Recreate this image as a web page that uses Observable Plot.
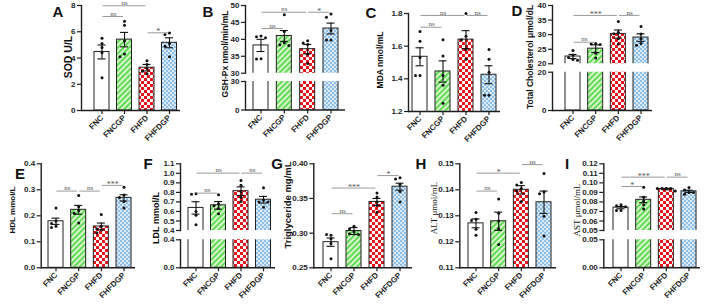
<!DOCTYPE html>
<html>
<head>
<meta charset="utf-8">
<script src="https://cdn.jsdelivr.net/npm/d3@7"></script>
<script src="https://cdn.jsdelivr.net/npm/@observablehq/plot@0.6"></script>
<style>
  body { margin: 0; background: #fff; }
  #fig { position: relative; width: 708px; height: 304px; overflow: hidden; background: #fff;
         font-family: "Liberation Sans", Arial, sans-serif; color: #111; }
  .letter { position: absolute; font-weight: bold; font-size: 15px; line-height: 1;
            transform: translate(-50%, -50%); }
  .ytitle { position: absolute; font-weight: bold; white-space: nowrap; line-height: 1;
            transform: translate(-50%, -50%) rotate(-90deg); }
  .ytitle.serif { font-family: "Liberation Serif", "Times New Roman", serif; font-weight: normal; }
</style>
</head>
<body>
<div id="fig">
  <svg width="0" height="0" style="position:absolute">
    <defs>
      <pattern id="hatch-green" width="4" height="4" patternUnits="userSpaceOnUse" patternTransform="rotate(45)">
        <rect width="4" height="4" fill="#d6f7c8"></rect>
        <rect width="2" height="4" fill="#63d85b"></rect>
      </pattern>
      <pattern id="check-red" width="6" height="6" patternUnits="userSpaceOnUse">
        <rect width="6" height="6" fill="#ffffff"></rect>
        <rect width="3" height="3" fill="#e8141c"></rect>
        <rect x="3" y="3" width="3" height="3" fill="#e8141c"></rect>
      </pattern>
      <pattern id="check-blue" width="4" height="4" patternUnits="userSpaceOnUse">
        <rect width="4" height="4" fill="#dbeaf8"></rect>
        <rect width="2" height="2" fill="#8fbfe8"></rect>
        <rect x="2" y="2" width="2" height="2" fill="#8fbfe8"></rect>
      </pattern>
    </defs>
  </svg>
</div>
<script>
// Groups shared by every panel
const groups = ["FNC", "FNCGP", "FHFD", "FHFDGP"];

// A: SOD (U/L)
const sodMean = [4.46, 5.40, 3.26, 5.16];
const sodSem = [0.53, 0.55, 0.25, 0.38];
const sodPoints = [[5.5, 5.1, 4.8, 4.4, 2.5], [6.8, 6.5, 5.3, 4.3, 4.1], [3.8, 3.5, 3.2, 3.0, 2.8], [5.9, 5.8, 5.1, 4.9, 4.1]];
const sodSig = [["FNC", "FNCGP", 7.16, "ns"], ["FNC", "FHFD", 7.98, "ns"], ["FHFD", "FHFDGP", 5.92, "*"]];
const sodTicks = [0, 2, 4, 6, 8];

// B: GSH-Px (nmol/min/mL), broken axis
const gshMean = [38.2, 41.0, 37.1, 43.2];
const gshSem = [1.8, 1.6, 1.4, 1.6];
const gshPoints = [[41.0, 40.8, 40.5, 34.3, 34.2], [47.3, 42.3, 39.0, 38.4, 38.2], [39.6, 38.9, 38.5, 35.7, 32.9], [47.5, 46.5, 42.6, 39.8, 39.8]];
const gshSig = [["FNC", "FNCGP", 43.2, "ns"], ["FNC", "FHFD", 48.0, "ns"], ["FHFD", "FHFDGP", 48.0, "*"]];
const gshTicksUpper = [30, 35, 40, 45, 50];
const gshTicksLower = [0, 30];

// C: MDA (nmol/mL)
const mdaMean = [1.535, 1.445, 1.64, 1.425];
const mdaSem = [0.055, 0.065, 0.055, 0.055];
const mdaPoints = [[1.69, 1.63, 1.53, 1.42, 1.42], [1.64, 1.54, 1.42, 1.36, 1.25], [1.80, 1.66, 1.64, 1.58, 1.52], [1.58, 1.52, 1.44, 1.30, 1.30]];
const mdaSig = [["FNC", "FNCGP", 1.716, "ns"], ["FNC", "FHFD", 1.788, "ns"], ["FHFD", "FHFDGP", 1.788, "ns"]];
const mdaTicks = [1.2, 1.4, 1.6, 1.8];

// D: Total cholesterol (μmol/dL), broken axis
const tcMean = [22.5, 25.2, 30.2, 29.0];
const tcSem = [0.7, 1.3, 1.4, 1.3];
const tcPoints = [[24.6, 23.0, 22.2, 21.5, 21.2], [27.0, 26.8, 26.6, 23.6, 22.0], [34.5, 30.8, 30.3, 28.6, 26.8], [32.8, 30.2, 28.6, 27.0, 26.4]];
const tcSig = [["FNC", "FNCGP", 27.4, "ns"], ["FNC", "FHFD", 36.6, "***"], ["FHFD", "FHFDGP", 36.6, "ns"]];
const tcTicksUpper = [20, 25, 30, 35, 40];
const tcTicksLower = [0, 20];

// E: HDL (mmol/L)
const hdlMean = [0.179, 0.223, 0.159, 0.269];
const hdlSem = [0.012, 0.017, 0.013, 0.012];
const hdlPoints = [[0.23, 0.18, 0.17, 0.16, 0.155], [0.278, 0.235, 0.22, 0.21, 0.172], [0.205, 0.16, 0.15, 0.145, 0.135], [0.31, 0.28, 0.27, 0.255, 0.23]];
const hdlSig = [["FNC", "FNCGP", 0.295, "ns"], ["FNCGP", "FHFD", 0.295, "ns"], ["FHFD", "FHFDGP", 0.317, "***"]];
const hdlTicks = [0, 0.1, 0.2, 0.3, 0.4];

// F: LDL (mmol/L), broken axis
const ldlMean = [0.637, 0.664, 0.813, 0.723];
const ldlSem = [0.065, 0.04, 0.045, 0.035];
const ldlPoints = [[0.785, 0.78, 0.6, 0.56, 0.46], [0.775, 0.68, 0.66, 0.63, 0.575], [0.925, 0.875, 0.81, 0.75, 0.705], [0.848, 0.72, 0.70, 0.70, 0.645]];
const ldlSig = [["FNC", "FNCGP", 0.792, "ns"], ["FNC", "FHFD", 1.002, "ns"], ["FHFD", "FHFDGP", 1.002, "ns"]];
const ldlTicksUpper = [0.4, 0.5, 0.6, 0.7, 0.8, 0.9, 1.0, 1.1];
const ldlTicksLower = [0, 0.4];

// G: Triglyceride (mg/mL)
const tgMean = [0.287, 0.303, 0.345, 0.367];
const tgSem = [0.006, 0.005, 0.005, 0.005];
const tgPoints = [[0.297, 0.298, 0.292, 0.285, 0.263], [0.31, 0.306, 0.302, 0.299, 0.298], [0.358, 0.352, 0.345, 0.34, 0.33], [0.38, 0.378, 0.37, 0.36, 0.345]];
const tgSig = [["FNC", "FNCGP", 0.328, "ns"], ["FNC", "FHFD", 0.365, "***"], ["FHFD", "FHFDGP", 0.383, "*"]];
const tgTicks = [0.25, 0.30, 0.35, 0.40];

// H: ALT (μmol/mL)
const altMean = [0.1271, 0.1279, 0.1400, 0.1352];
const altSem = [0.0017, 0.0035, 0.0016, 0.0043];
const altPoints = [[0.1313, 0.1287, 0.1282, 0.1248, 0.1225], [0.1365, 0.131, 0.128, 0.125, 0.119], [0.1428, 0.1418, 0.1405, 0.1395, 0.1355], [0.1463, 0.1392, 0.1385, 0.1298, 0.1222]];
const altSig = [["FNC", "FNCGP", 0.1395, "ns"], ["FNC", "FHFD", 0.1464, "*"], ["FHFD", "FHFDGP", 0.1497, "ns"]];
const altTicks = [0.11, 0.12, 0.13, 0.14, 0.15];

// I: AST (μmol/mL), broken axis
const astMean = [0.074, 0.0822, 0.0935, 0.0911];
const astSem = [0.0012, 0.003, 0.0008, 0.0012];
const astPoints = [[0.077, 0.076, 0.075, 0.071, 0.071], [0.0955, 0.085, 0.081, 0.077, 0.0725], [0.094, 0.094, 0.094, 0.094, 0.0915], [0.095, 0.0925, 0.09, 0.09, 0.088]];
const astSig = [["FNC", "FNCGP", 0.0962, "*"], ["FNC", "FHFD", 0.106, "***"], ["FHFD", "FHFDGP", 0.106, "ns"]];
const astTicksUpper = [0.05, 0.06, 0.07, 0.08, 0.09, 0.10, 0.11, 0.12];
const astTicksLower = [0, 0.05];

// Bar fills per group
const groupFill = {FNC: "#ffffff", FNCGP: "url(#hatch-green)", FHFD: "url(#check-red)", FHFDGP: "url(#check-blue)"};

const W = 708, H = 304, BAR = 15, DOT_STEP = 4.5;

const panels = [
  {letter: "A", title: "SOD U/L", mean: sodMean, sem: sodSem, points: sodPoints, sig: sodSig,
   layout: {left: 81, right: 180, first: 101.5, step: 22.5, letterAt: [58, 11], titleAt: [68, 57], titleSize: 10.5,
            parts: [{domain: [0, 8], top: 5, bottom: 110, ticks: sodTicks, format: "d"}]}},
  {letter: "B", title: "GSH-Px nmol/min/mL", mean: gshMean, sem: gshSem, points: gshPoints, sig: gshSig,
   layout: {left: 245, right: 345, first: 260.5, step: 23.33, letterAt: [208, 11], titleAt: [225, 54], titleSize: 8.5,
            parts: [{domain: [30, 50], top: 5, bottom: 72.7, ticks: gshTicksUpper, format: "d"},
                    {domain: [0, 30], top: 81, bottom: 109.5, ticks: gshTicksLower, format: "d"}]}},
  {letter: "C", title: "MDA nmol/mL", mean: mdaMean, sem: mdaSem, points: mdaPoints, sig: mdaSig,
   layout: {left: 408, right: 500, first: 419.5, step: 23, letterAt: [371, 12], titleAt: [380, 60], titleSize: 8.5,
            parts: [{domain: [1.2, 1.8], top: 13, bottom: 111, ticks: mdaTicks, format: ".1f"}]}},
  {letter: "D", title: "Total Cholesterol μmol/dL", mean: tcMean, sem: tcSem, points: tcPoints, sig: tcSig,
   layout: {left: 552, right: 652, first: 572.5, step: 22.67, letterAt: [517, 10], titleAt: [530, 57], titleSize: 8.5,
            parts: [{domain: [20, 40], top: 5, bottom: 63.3, ticks: tcTicksUpper, format: "d"},
                    {domain: [0, 20], top: 71.7, bottom: 110, ticks: tcTicksLower, format: "d"}]}},
  {letter: "E", title: "HDL mmol/L", mean: hdlMean, sem: hdlSem, points: hdlPoints, sig: hdlSig,
   layout: {left: 40.7, right: 135, first: 55.5, step: 22.67, letterAt: [20, 173], titleAt: [12.5, 210], titleSize: 8,
            parts: [{domain: [0, 0.4], top: 163.3, bottom: 267.3, ticks: hdlTicks, format: ".1f"}]}},
  {letter: "F", title: "LDL mmol/L", mean: ldlMean, sem: ldlSem, points: ldlPoints, sig: ldlSig,
   layout: {left: 180, right: 275, first: 195.5, step: 22.5, letterAt: [148, 163], titleAt: [155.5, 218], titleSize: 9,
            parts: [{domain: [0.4, 1.1], top: 163.3, bottom: 230, ticks: ldlTicksUpper, format: ".1f"},
                    {domain: [0, 0.4], top: 239.3, bottom: 267.3, ticks: ldlTicksLower, format: ".1f"}]}},
  {letter: "G", title: "Triglyceride mg/mL", mean: tgMean, sem: tgSem, points: tgPoints, sig: tgSig,
   layout: {left: 313.3, right: 412, first: 330.5, step: 23, letterAt: [277, 163], titleAt: [288, 205], titleSize: 9.5,
            parts: [{domain: [0.25, 0.40], top: 163.3, bottom: 267.3, ticks: tgTicks, format: ".2f"}]}},
  {letter: "H", title: "ALT μmol/mL", serif: true, mean: altMean, sem: altSem, points: altPoints, sig: altSig,
   layout: {left: 459.3, right: 556, first: 475.5, step: 22.67, letterAt: [421, 163], titleAt: [434, 208], titleSize: 9,
            parts: [{domain: [0.11, 0.15], top: 163.3, bottom: 267.3, ticks: altTicks, format: ".2f"}]}},
  {letter: "I", title: "AST μmol/mL", serif: true, mean: astMean, sem: astSem, points: astPoints, sig: astSig,
   layout: {left: 603.3, right: 700, first: 620.5, step: 22.67, letterAt: [567, 163], titleAt: [577, 210], titleSize: 9,
            parts: [{domain: [0.05, 0.12], top: 163.3, bottom: 230, ticks: astTicksUpper, format: ".2f"},
                    {domain: [0, 0.05], top: 239.3, bottom: 267.3, ticks: astTicksLower, format: ".2f"}]}}
];

// Spread overlapping replicate points sideways (beeswarm-like column placement)
function columnSlots(values, pxPerUnit) {
  const placed = [];
  const order = [0, -1, 1, -2, 2, -3, 3];
  return values.map((v) => {
    const py = v * pxPerUnit;
    for (const k of order) {
      if (!placed.some((q) => q.k === k && Math.abs(q.py - py) < 3.4)) {
        placed.push({k, py});
        return k;
      }
    }
    return 0;
  });
}

const fig = document.getElementById("fig");
const AXIS = "#1e1e1e";

function drawPart(panel, part, isTop, isBottom) {
  const L = panel.layout;
  const rows = groups.map((g, i) => ({g, mean: panel.mean[i], sem: panel.sem[i]}));
  const marks = [];

  marks.push(Plot.barY(rows, {x: "g", y: "mean", fill: (d) => groupFill[d.g], stroke: "#222", strokeWidth: 1, clip: true}));

  if (isTop) {
    // error bars (mean ± SEM)
    marks.push(Plot.ruleX(rows, {x: "g", y1: (d) => d.mean - d.sem, y2: (d) => d.mean + d.sem, stroke: "#111", strokeWidth: 1.1}));
    marks.push(Plot.tickY(rows, {x: "g", y: (d) => d.mean + d.sem, insetLeft: 3.5, insetRight: 3.5, stroke: "#111", strokeWidth: 1.1}));
    marks.push(Plot.tickY(rows, {x: "g", y: (d) => d.mean - d.sem, insetLeft: 3.5, insetRight: 3.5, stroke: "#111", strokeWidth: 1.1}));

    // replicate points
    const pxPerUnit = (part.bottom - part.top) / (part.domain[1] - part.domain[0]);
    const pts = groups.flatMap((g, i) => {
      const slots = columnSlots(panel.points[i], pxPerUnit);
      return panel.points[i].map((v, j) => ({g, v, k: slots[j]}));
    });
    for (const k of Array.from(new Set(pts.map((p) => p.k)))) {
      marks.push(Plot.dot(pts.filter((p) => p.k === k), {x: "g", y: "v", dx: k * DOT_STEP, r: 1.5, fill: "#111", stroke: "none"}));
    }

    // significance brackets
    const sigRows = panel.sig.map(([a, b, y, label]) => ({a, b, y, label}));
    marks.push(Plot.ruleY(sigRows, {x1: "a", x2: "b", y: "y", insetLeft: BAR / 2 + 1, insetRight: BAR / 2 + 1, stroke: "#9a9a9a", strokeWidth: 1}));
    for (const s of sigRows) {
      const span = groups.indexOf(s.b) - groups.indexOf(s.a);
      const star = s.label !== "ns";
      marks.push(Plot.text([s], {x: "a", y: "y", text: "label", dx: span * L.step / 2, dy: star ? 1.5 : -0.8,
        lineAnchor: "bottom", fontFamily: "Liberation Serif, Times New Roman, serif",
        fontSize: star ? 8 : 7, fill: "#555"}));
    }
  }

  marks.push(Plot.axisY({ticks: part.ticks, tickFormat: d3.format(part.format), tickSize: 4, tickPadding: 2,
    fontSize: 8, fontWeight: "bold", stroke: AXIS, strokeWidth: 1.2, fill: AXIS, label: null}));
  marks.push(Plot.frame({anchor: "left", stroke: AXIS, strokeWidth: 1.4}));

  if (isBottom) {
    marks.push(Plot.ruleY([part.domain[0]], {stroke: AXIS, strokeWidth: 1.4}));
    marks.push(Plot.axisX({tickRotate: -45, tickSize: 4, tickPadding: 2, fontSize: 8, fontWeight: "bold",
      stroke: AXIS, strokeWidth: 1.2, fill: AXIS, label: null}));
  }

  const svg = Plot.plot({
    width: W, height: H,
    marginLeft: L.left, marginRight: W - L.right, marginTop: part.top, marginBottom: H - part.bottom,
    x: {domain: groups, range: [L.first - BAR / 2, L.first + 3 * L.step + BAR / 2],
        paddingInner: 1 - BAR / L.step, paddingOuter: 0, round: false, axis: null, label: null},
    y: {domain: part.domain, label: null, axis: null},
    color: {type: "identity"},
    style: {position: "absolute", left: "0px", top: "0px", overflow: "visible", background: "transparent",
            fontFamily: "Liberation Sans, Arial, sans-serif"},
    marks
  });
  fig.appendChild(svg);
}

for (const panel of panels) {
  const parts = panel.layout.parts;
  parts.forEach((part, i) => drawPart(panel, part, i === 0, i === parts.length - 1));

  const letter = document.createElement("div");
  letter.className = "letter";
  letter.textContent = panel.letter;
  letter.style.left = panel.layout.letterAt[0] + "px";
  letter.style.top = panel.layout.letterAt[1] + "px";
  fig.appendChild(letter);

  const title = document.createElement("div");
  title.className = "ytitle" + (panel.serif ? " serif" : "");
  title.textContent = panel.title;
  title.style.left = panel.layout.titleAt[0] + "px";
  title.style.top = panel.layout.titleAt[1] + "px";
  title.style.fontSize = panel.layout.titleSize + "px";
  fig.appendChild(title);
}
</script>
</body>
</html>
